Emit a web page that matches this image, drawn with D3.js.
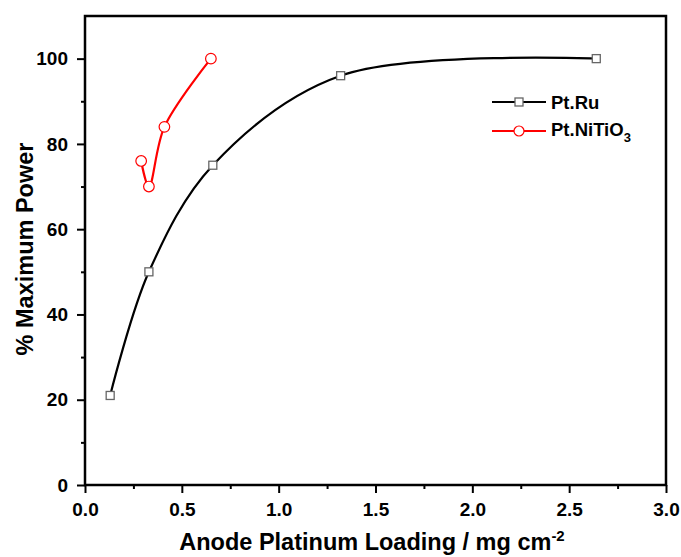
<!DOCTYPE html>
<html><head><meta charset="utf-8">
<script src="https://cdn.jsdelivr.net/npm/d3@7"></script>
<style>body{margin:0;background:#fff;} svg{display:block;font-family:"Liberation Sans",Arial,sans-serif;}</style>
</head><body>
<svg id="c" width="681" height="557"></svg>
<script>
const ptRuX = [0.13, 0.33, 0.66, 1.32, 2.64];
const ptRuY = [21, 50, 75, 96, 100];
const ptNiX = [0.29, 0.33, 0.41, 0.65];
const ptNiY = [76, 70, 84, 100];
const xTicks = [0, 0.5, 1.0, 1.5, 2.0, 2.5, 3.0];
const yTicks = [0, 20, 40, 60, 80, 100];
const seriesNames = ["Pt.Ru", "Pt.NiTiO"];

const svg = d3.select("#c");
const L = 85, R = 666, T = 16, B = 485;
const x = d3.scaleLinear().domain([0, 3]).range([L, R]);
const y = d3.scaleLinear().domain([0, 110]).range([B, T]);

const xMinor = d3.range(0.25, 3, 0.5);
const yMinor = d3.range(10, 110, 20);

const axW = 2.5;
svg.append("rect").attr("x", L).attr("y", T).attr("width", R - L).attr("height", B - T)
  .attr("fill", "none").attr("stroke", "#000").attr("stroke-width", axW);

const xa = svg.append("g").attr("transform", `translate(0,${B})`)
  .call(d3.axisBottom(x).tickValues(xTicks).tickFormat(d3.format(".1f")).tickSize(8).tickPadding(10));
xa.select(".domain").remove();
svg.append("g").attr("transform", `translate(0,${B})`)
  .call(d3.axisBottom(x).tickValues(xMinor).tickFormat("").tickSize(4))
  .select(".domain").remove();
const ya = svg.append("g").attr("transform", `translate(${L},0)`)
  .call(d3.axisLeft(y).tickValues(yTicks).tickFormat(d3.format("d")).tickSize(8).tickPadding(9));
ya.select(".domain").remove();
svg.append("g").attr("transform", `translate(${L},0)`)
  .call(d3.axisLeft(y).tickValues(yMinor).tickFormat("").tickSize(4))
  .select(".domain").remove();
svg.selectAll(".tick line").attr("stroke", "#000").attr("stroke-width", 2);
svg.selectAll(".tick text").attr("font-size", 19).attr("font-weight", "bold").attr("fill", "#000")
  .attr("font-family", "'Liberation Sans',Arial,sans-serif");

svg.append("text").attr("x", 372).attr("y", 550).attr("text-anchor", "middle")
  .attr("font-size", 23.5).attr("font-weight", "bold")
  .html('Anode Platinum Loading / mg cm<tspan dy="-9" font-size="15">-2</tspan>');
svg.append("text").attr("transform", "translate(33,249) rotate(-90)").attr("text-anchor", "middle")
  .attr("font-size", 23.5).attr("font-weight", "bold").text("% Maximum Power");

const ru = ptRuX.map((v, i) => [v, ptRuY[i]]);
const ni = ptNiX.map((v, i) => [v, ptNiY[i]]);
const cr = d3.line().x(d => x(d[0])).y(d => y(d[1])).curve(d3.curveCatmullRom.alpha(0.5));

svg.append("path").attr("d", cr(ru)).attr("fill", "none").attr("stroke", "#000").attr("stroke-width", 2.2);
svg.append("path").attr("d", cr(ni)).attr("fill", "none").attr("stroke", "#ff0000").attr("stroke-width", 2.2);

svg.selectAll(".sq").data(ru).enter().append("rect")
  .attr("x", d => x(d[0]) - 4).attr("y", d => y(d[1]) - 4).attr("width", 8).attr("height", 8)
  .attr("fill", "#fff").attr("stroke", "#666").attr("stroke-width", 1.3);
svg.selectAll(".ci").data(ni).enter().append("circle")
  .attr("cx", d => x(d[0])).attr("cy", d => y(d[1])).attr("r", 5.3)
  .attr("fill", "#fff").attr("stroke", "#ff0000").attr("stroke-width", 1.2);

const lg = svg.append("g");
lg.append("line").attr("x1", 492).attr("x2", 546).attr("y1", 102).attr("y2", 102).attr("stroke", "#000").attr("stroke-width", 2);
lg.append("rect").attr("x", 515).attr("y", 98).attr("width", 8).attr("height", 8).attr("fill", "#fff").attr("stroke", "#666").attr("stroke-width", 1.3);
lg.append("line").attr("x1", 492).attr("x2", 546).attr("y1", 131).attr("y2", 131).attr("stroke", "#ff0000").attr("stroke-width", 2);
lg.append("circle").attr("cx", 519).attr("cy", 131).attr("r", 5).attr("fill", "#fff").attr("stroke", "#ff0000").attr("stroke-width", 1.2);
lg.append("text").attr("x", 551).attr("y", 109).attr("font-size", 18.5).attr("font-weight", "bold").text(seriesNames[0]);
lg.append("text").attr("x", 551).attr("y", 136).attr("font-size", 18.5).attr("font-weight", "bold")
  .html(seriesNames[1] + '<tspan dy="6" font-size="13">3</tspan>');
</script>
</body></html>
